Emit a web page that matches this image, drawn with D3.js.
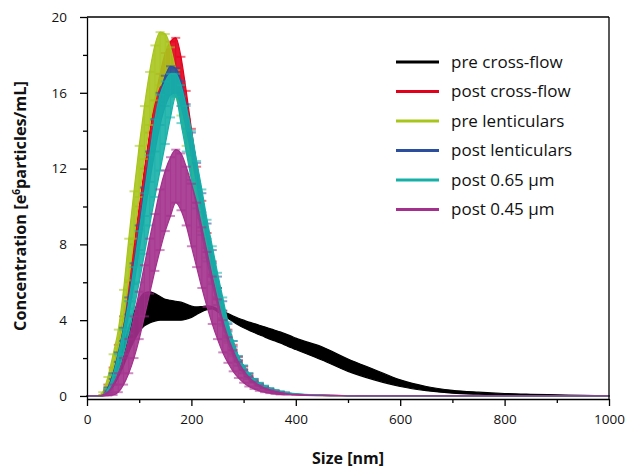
<!DOCTYPE html>
<html><head><meta charset="utf-8">
<script src="https://cdn.jsdelivr.net/npm/d3@7"></script>
<style>body{margin:0;background:#fff} svg{display:block;font-family:"Open Sans",sans-serif}</style>
</head><body><svg id="c" width="627" height="470"></svg>
<script>
const sizes = [0,10,20,30,40,50,60,70,80,90,100,110,120,130,140,150,160,170,180,190,200,210,220,230,240,250,260,270,280,290,300,310,320,330,340,350,360,370,380,390,400,450,500,550,600,650,700,750,800,850,900,950,1000];

const preCrossflowUpper = [0,0,0,0.05,0.4,1.0,1.8,2.7,3.6,4.4,5.1,5.45,5.5,5.4,5.25,5.1,5.05,5.0,4.95,4.85,4.75,4.7,4.72,4.75,4.72,4.6,4.48,4.35,4.22,4.1,4.0,3.9,3.82,3.73,3.65,3.56,3.47,3.38,3.28,3.17,3.05,2.6,1.95,1.4,0.85,0.5,0.3,0.2,0.13,0.09,0.06,0.03,0.01];
const preCrossflowLower = [0,0,0,0,0.15,0.5,1.0,1.6,2.3,2.9,3.4,3.7,3.85,3.95,4.0,4.0,4.0,4.0,4.0,4.05,4.15,4.3,4.45,4.55,4.6,4.45,4.28,4.1,3.92,3.75,3.6,3.47,3.35,3.23,3.12,3.0,2.9,2.8,2.68,2.56,2.45,1.9,1.3,0.85,0.5,0.28,0.15,0.09,0.05,0.03,0.02,0.01,0];

const postCrossflowUpper = [0,0,0,0.1,0.6,1.5,2.7,4.2,6.0,8.0,10.0,12.0,13.9,15.6,17.0,18.1,18.7,18.9,17.9,16.1,14.1,12.1,10.3,8.6,7.1,5.7,4.5,3.5,2.7,2.05,1.55,1.15,0.87,0.65,0.49,0.37,0.28,0.21,0.16,0.12,0.09,0.04,0.015,0,0,0,0,0,0,0,0,0,0];
const postCrossflowLower = [0,0,0,0.05,0.4,1.1,2.1,3.4,5.0,6.9,8.8,10.7,12.5,14.1,15.5,16.5,17.1,17.2,16.3,14.6,12.8,11.0,9.4,7.8,6.4,5.2,4.1,3.2,2.45,1.85,1.4,1.05,0.79,0.59,0.45,0.34,0.25,0.19,0.14,0.11,0.08,0.03,0.01,0,0,0,0,0,0,0,0,0,0];

const preLentUpper = [0,0,0,0.2,1.0,2.2,3.5,5.6,8.3,10.8,13.2,15.3,17.1,18.5,19.2,19.1,18.4,17.2,15.8,14.2,12.6,11.0,9.4,7.9,6.5,5.2,4.0,3.0,2.3,1.75,1.35,1.0,0.78,0.6,0.45,0.35,0.27,0.2,0.15,0.11,0.08,0.03,0.01,0,0,0,0,0,0,0,0,0,0];
const preLentLower = [0,0,0,0.05,0.5,1.4,2.5,4.0,6.1,8.3,10.5,12.5,14.3,15.6,16.4,16.6,16.3,15.8,14.8,13.2,11.7,10.2,8.7,7.3,6.0,4.8,3.7,2.8,2.1,1.6,1.2,0.9,0.7,0.53,0.4,0.3,0.23,0.17,0.13,0.1,0.07,0.02,0.01,0,0,0,0,0,0,0,0,0,0];

const postLentUpper = [0,0,0,0.05,0.45,1.2,2.3,3.6,5.2,7.0,9.0,11.0,12.9,14.6,16.0,16.9,17.4,17.3,16.6,15.4,13.9,12.3,10.7,9.1,7.7,6.3,5.0,3.8,2.9,2.1,1.6,1.2,0.9,0.68,0.52,0.4,0.3,0.23,0.18,0.14,0.1,0.04,0.015,0,0,0,0,0,0,0,0,0,0];
const postLentLower = [0,0,0,0.02,0.3,0.9,1.8,2.9,4.3,5.9,7.7,9.5,11.3,12.9,14.3,15.3,15.9,16.0,15.3,14.1,12.7,11.2,9.7,8.3,7.0,5.7,4.5,3.4,2.6,1.9,1.4,1.05,0.8,0.6,0.46,0.35,0.26,0.2,0.16,0.12,0.09,0.03,0.01,0,0,0,0,0,0,0,0,0,0];

const post065Upper = [0,0,0,0.05,0.35,1.1,2.2,3.5,5.0,6.8,8.7,10.7,12.7,14.6,15.9,16.6,17.0,17.0,16.4,15.3,14.0,12.4,10.9,9.3,7.9,6.5,5.2,3.9,2.9,2.1,1.6,1.2,0.9,0.7,0.55,0.42,0.32,0.25,0.19,0.15,0.12,0.05,0.02,0.01,0,0,0,0,0,0,0,0,0];
const post065Lower = [0,0,0,0.02,0.15,0.6,1.3,2.2,3.3,4.6,6.0,7.5,9.0,10.5,11.9,13.3,14.7,15.8,14.4,12.9,11.4,9.9,8.5,7.1,5.9,4.8,3.8,2.9,2.2,1.6,1.2,0.9,0.7,0.5,0.4,0.3,0.23,0.17,0.13,0.1,0.08,0.03,0.01,0,0,0,0,0,0,0,0,0,0];

const post045Upper = [0,0,0,0.05,0.2,0.6,1.2,2.0,3.0,4.2,5.5,6.9,8.3,9.6,10.9,11.9,12.6,13.0,12.8,12.1,11.2,10.2,8.9,7.6,6.3,5.1,4.0,3.1,2.4,1.8,1.35,1.0,0.75,0.56,0.42,0.32,0.24,0.18,0.14,0.1,0.08,0.03,0.01,0,0,0,0,0,0,0,0,0,0];
const post045Lower = [0,0,0,0,0.02,0.05,0.2,0.6,1.2,2.0,3.0,4.2,5.4,6.6,7.7,8.7,9.5,10.2,9.8,9.0,7.9,6.8,5.7,4.7,3.8,3.0,2.3,1.75,1.3,0.95,0.7,0.5,0.37,0.27,0.2,0.15,0.11,0.08,0.06,0.05,0.04,0.02,0.01,0,0,0,0,0,0,0,0,0,0];

const seriesNames = ["pre cross-flow","post cross-flow","pre lenticulars","post lenticulars","post 0.65 µm","post 0.45 µm"];
const seriesColors = ["#000000","#e3001b","#a8c51c","#2b4f9e","#16b0a9","#a3308c"];
const seriesUpper = [preCrossflowUpper,postCrossflowUpper,preLentUpper,postLentUpper,post065Upper,post045Upper];
const seriesLower = [preCrossflowLower,postCrossflowLower,preLentLower,postLentLower,post065Lower,post045Lower];

const xTicks = [0,200,400,600,800,1000];
const xMinorTicks = [100,300,500,700,900];
const yTicks = [0,4,8,12,16,20];
const yMinorTicks = [2,6,10,14,18];

const svg = d3.select("#c");
svg.append("rect").attr("width",627).attr("height",470).attr("fill","#fff");

const x = d3.scaleLinear().domain([0,1000]).range([87,609]);
const y = d3.scaleLinear().domain([-0.16,20]).range([399,17]);

const plot = svg.append("g");
const area = d3.area()
  .x(d => x(d.s)).y0(d => y(d.lo)).y1(d => y(d.hi))
  .curve(d3.curveMonotoneX);

seriesNames.forEach((name, k) => {
  const pts = sizes.map((s,i) => ({s, lo: seriesLower[k][i], hi: seriesUpper[k][i]}));
  const col = seriesColors[k];
  const g = plot.append("g");
  g.append("path").datum(pts).attr("d", area)
    .attr("fill", col).attr("fill-opacity", k === 0 ? 1 : 0.9)
    .attr("stroke", col).attr("stroke-width", 1.2).attr("stroke-linejoin","round");
  if (k > 0) {
    const bars = pts.filter(d => d.hi > 0.15 && d.s <= 400);
    g.selectAll("line.eb").data(bars).join("line")
      .attr("x1", d => x(d.s)).attr("x2", d => x(d.s))
      .attr("y1", d => y(d.lo)).attr("y2", d => y(d.hi))
      .attr("stroke", col).attr("stroke-width", 1).attr("stroke-opacity", 0.6);
    ["hi","lo"].forEach(key => {
      g.selectAll("line.cap"+key).data(bars).join("line")
        .attr("x1", d => x(d.s) - 4.5).attr("x2", d => x(d.s) + 4.5)
        .attr("y1", d => y(d[key])).attr("y2", d => y(d[key]))
        .attr("stroke", col).attr("stroke-width", 2).attr("stroke-opacity", 0.55);
    });
  }
});

// Axes
const axisStyle = sel => {
  sel.selectAll("path,line").attr("stroke","#000").attr("stroke-width",1.3);
  sel.selectAll("text").attr("font-family","'Open Sans',sans-serif").attr("font-size",13.5).attr("fill","#111");
};
const xAxis = svg.append("g").attr("transform","translate(0,399)")
  .call(d3.axisBottom(x).tickValues(xTicks).tickFormat(d3.format("d")).tickSize(7).tickSizeOuter(0).tickPadding(8));
axisStyle(xAxis);
const xMinor = svg.append("g").attr("transform","translate(0,399)")
  .call(d3.axisBottom(x).tickValues(xMinorTicks).tickFormat("").tickSize(4).tickSizeOuter(0));
axisStyle(xMinor);
xMinor.select(".domain").remove();

const yAxis = svg.append("g").attr("transform","translate(87,0)")
  .call(d3.axisLeft(y).tickValues(yTicks).tickFormat(d3.format("d")).tickSize(7).tickSizeOuter(0).tickPadding(13));
axisStyle(yAxis);
const yMinor = svg.append("g").attr("transform","translate(87,0)")
  .call(d3.axisLeft(y).tickValues(yMinorTicks).tickFormat("").tickSize(4).tickSizeOuter(0));
axisStyle(yMinor);
yMinor.select(".domain").remove();

// frame top/right
svg.append("line").attr("x1",x(0)).attr("x2",x(1000)).attr("y1",y(20)).attr("y2",y(20)).attr("stroke","#000").attr("stroke-width",1.3);
svg.append("line").attr("x1",x(1000)).attr("x2",x(1000)).attr("y1",y(20)).attr("y2",399).attr("stroke","#000").attr("stroke-width",1.3);

// titles
svg.append("text").attr("x",348).attr("y",464).attr("text-anchor","middle")
  .attr("font-weight","bold").attr("font-size",16).attr("fill","#111").text("Size [nm]");
const yt = svg.append("text").attr("transform","translate(26,206) rotate(-90)").attr("text-anchor","middle")
  .attr("font-weight","bold").attr("font-size",16.3).attr("fill","#111");
yt.append("tspan").text("Concentration [e");
yt.append("tspan").attr("font-size",10).attr("dy",-6).text("6");
yt.append("tspan").attr("dy",6).text("particles/mL]");

// legend
const legendRows = [62,91.5,121,150.5,180,209.5];
const lg = svg.append("g");
seriesNames.forEach((name,k) => {
  lg.append("line").attr("x1",396).attr("x2",439).attr("y1",legendRows[k]).attr("y2",legendRows[k])
    .attr("stroke",seriesColors[k]).attr("stroke-width",3);
  lg.append("text").attr("x",451).attr("y",legendRows[k]).attr("dy","0.35em")
    .attr("font-size",17).attr("fill","#111").text(name);
});
</script></body></html>
